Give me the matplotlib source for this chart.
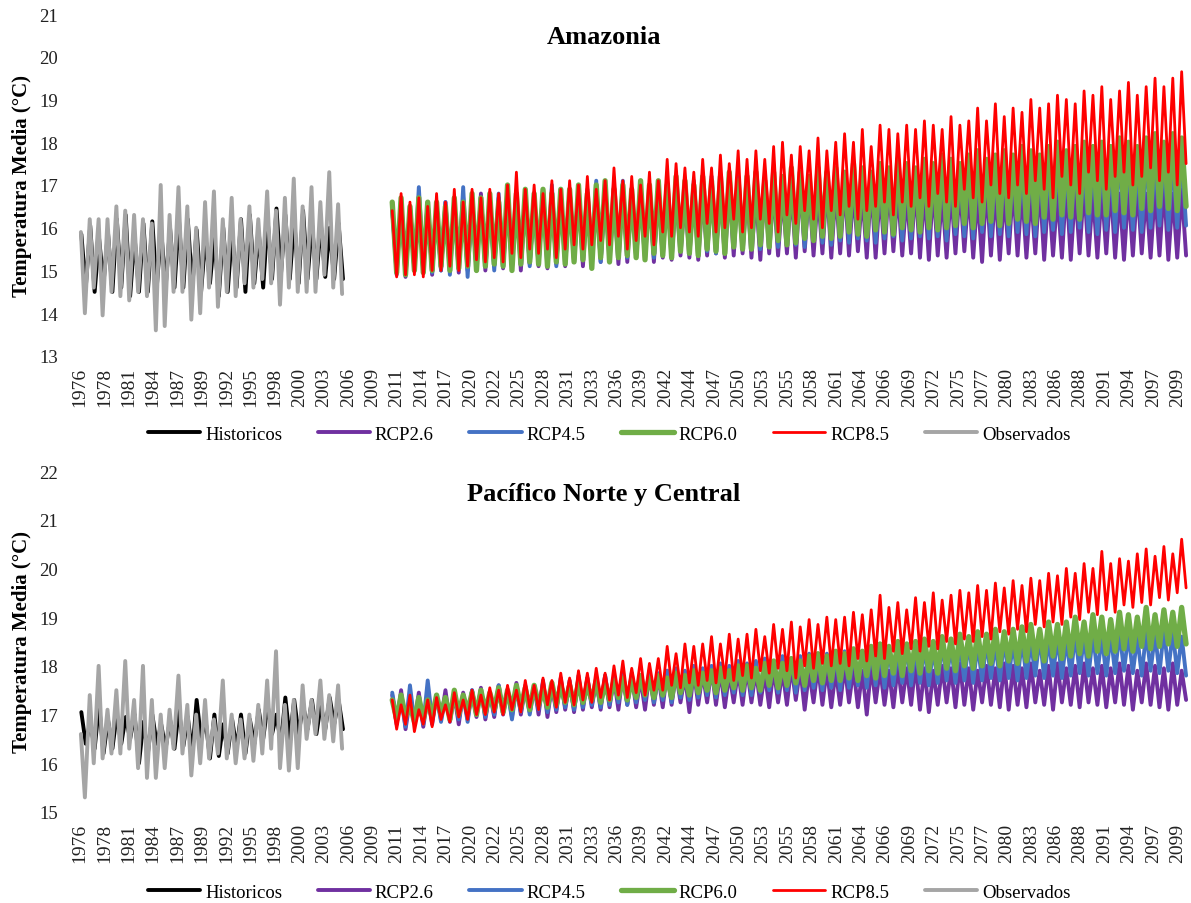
import matplotlib
matplotlib.use("Agg")
import matplotlib.pyplot as plt

# Series names, colours and widths (legend order)
series_names = ["Historicos", "RCP2.6", "RCP4.5", "RCP6.0", "RCP8.5", "Observados"]
series_colors = ["#000000", "#7030A0", "#4472C4", "#70AD47", "#FF0000", "#A5A5A5"]
series_widths = [2.8, 2.8, 2.8, 3.8, 2.0, 2.8]

# x axis labels (Excel shows one label every 33 months)
tick_labels = ["1976", "1978", "1981", "1984", "1987", "1989", "1992", "1995", "1998",
               "2000", "2003", "2006", "2009", "2011", "2014", "2017", "2020", "2022",
               "2025", "2028", "2031", "2033", "2036", "2039", "2042", "2044", "2047",
               "2050", "2053", "2055", "2058", "2061", "2064", "2066", "2069", "2072",
               "2075", "2077", "2080", "2083", "2086", "2088", "2091", "2094", "2097",
               "2099"]

hist_start = 1976
rcp_start = 2011

# ---------------- Amazonia: yearly highs / lows ----------------
amz_hist_hi = [15.85, 16.05, 15.75, 15.9, 16.2, 16.3, 15.8, 16.1, 16.15, 15.95,
               16.0, 16.2, 16.2, 15.95, 15.8, 15.8, 16.0, 15.9, 16.2, 16.3,
               15.9, 16.2, 16.45, 16.3, 16.2, 16.4, 16.1, 16.1, 16.0, 16.1]
amz_hist_lo = [14.6, 14.5, 14.7, 14.5, 14.6, 14.4, 14.5, 14.5, 14.6, 14.6,
               14.6, 14.6, 14.6, 14.5, 14.7, 14.4, 14.5, 14.6, 14.5, 14.7,
               14.6, 14.8, 14.9, 14.8, 14.7, 14.8, 14.8, 14.85, 14.8, 14.8]
amz_obs_hi = [15.9, 16.2, 16.2, 16.2, 16.5, 16.4, 16.3, 16.2, 16.1, 17.0,
              16.3, 16.95, 16.5, 16.0, 16.6, 16.85, 16.2, 16.7, 16.2, 16.5,
              16.2, 16.85, 16.4, 16.7, 17.15, 16.5, 16.95, 16.6, 17.3, 16.55]
amz_obs_lo = [14.0, 14.6, 13.95, 14.5, 14.4, 14.3, 14.5, 14.4, 13.6, 13.7,
              14.5, 14.5, 13.85, 14.0, 14.6, 14.15, 14.5, 14.4, 14.7, 14.6,
              14.8, 14.7, 14.2, 14.6, 14.5, 14.5, 14.5, 14.9, 14.6, 14.45]

amz_rcp26_hi = [16.45, 16.7, 16.5, 16.7, 16.6, 16.5, 16.6, 16.5, 16.7, 16.6,
                16.8, 16.6, 16.7, 16.6, 16.8, 16.7, 16.6, 16.8, 16.7, 16.8,
                16.7, 16.8, 16.7, 16.9, 16.8, 16.7, 16.9, 16.8, 16.7, 16.9,
                16.8, 16.9, 16.8, 16.7, 16.9, 16.8, 16.9, 16.8, 16.9, 17.0,
                16.9, 16.8, 17.0, 16.9, 16.8, 16.9, 17.0, 16.9, 16.8, 17.0,
                16.9, 17.0, 16.9, 16.8, 17.0, 16.9, 17.0, 16.9, 16.8, 17.0,
                16.9, 17.0, 16.8, 16.9, 17.0, 16.9, 16.8, 17.0, 16.9, 16.8,
                17.0, 16.9, 16.8, 17.0, 16.9, 16.8, 17.0, 16.9, 17.0, 16.8,
                16.9, 17.0, 16.8, 16.9, 17.0, 16.8, 16.9, 17.0, 16.8, 16.9]
amz_rcp26_lo = [14.9, 14.85, 15.0, 14.95, 14.9, 15.0, 15.05, 14.95, 15.0, 15.05,
                15.0, 15.1, 15.05, 15.1, 15.0, 15.15, 15.1, 15.05, 15.15, 15.1,
                15.2, 15.1, 15.15, 15.2, 15.25, 15.15, 15.2, 15.3, 15.25, 15.2,
                15.3, 15.25, 15.35, 15.3, 15.25, 15.35, 15.4, 15.3, 15.35, 15.4,
                15.3, 15.25, 15.4, 15.35, 15.4, 15.3, 15.45, 15.35, 15.4, 15.3,
                15.4, 15.35, 15.45, 15.3, 15.3, 15.4, 15.45, 15.35, 15.4, 15.3,
                15.25, 15.35, 15.3, 15.4, 15.45, 15.3, 15.2, 15.35, 15.25, 15.4,
                15.35, 15.3, 15.4, 15.25, 15.35, 15.3, 15.25, 15.4, 15.35, 15.3,
                15.4, 15.3, 15.25, 15.35, 15.4, 15.3, 15.35, 15.25, 15.3, 15.35]
amz_rcp45_hi = [16.4, 16.6, 16.5, 16.95, 16.6, 16.5, 16.6, 16.5, 16.95, 16.6,
                16.7, 16.6, 16.8, 16.7, 16.6, 16.8, 16.7, 16.9, 17.0, 16.8,
                16.9, 16.8, 16.9, 17.1, 16.9, 17.0, 17.1, 16.9, 17.0, 16.9,
                17.0, 16.9, 17.1, 17.0, 17.1, 17.0, 17.2, 17.0, 17.1, 17.2,
                17.1, 17.2, 17.0, 17.2, 17.1, 17.3, 17.2, 17.1, 17.3, 17.2,
                17.2, 17.3, 17.2, 17.4, 17.3, 17.2, 17.4, 17.3, 17.3, 17.4,
                17.3, 17.4, 17.5, 17.3, 17.4, 17.5, 17.4, 17.5, 17.4, 17.5,
                17.5, 17.4, 17.6, 17.5, 17.4, 17.6, 17.5, 17.6, 17.5, 17.6,
                17.6, 17.5, 17.7, 17.6, 17.5, 17.7, 17.6, 17.7, 17.6, 17.7]
amz_rcp45_lo = [15.1, 14.9, 15.0, 15.1, 14.95, 15.0, 14.9, 15.05, 14.85, 15.0,
                15.1, 15.0, 15.15, 15.1, 15.2, 15.1, 15.15, 15.2, 15.1, 15.25,
                15.2, 15.3, 15.25, 15.2, 15.3, 15.35, 15.3, 15.4, 15.35, 15.3,
                15.4, 15.35, 15.45, 15.4, 15.5, 15.45, 15.4, 15.5, 15.55, 15.5,
                15.55, 15.5, 15.6, 15.55, 15.65, 15.6, 15.55, 15.7, 15.65, 15.6,
                15.7, 15.65, 15.75, 15.7, 15.65, 15.75, 15.8, 15.7, 15.75, 15.8,
                15.75, 15.8, 15.7, 15.85, 15.8, 15.75, 15.9, 15.8, 15.85, 15.8,
                15.9, 15.85, 15.8, 15.9, 15.95, 15.85, 15.9, 16.0, 15.9, 15.85,
                15.95, 15.9, 16.0, 15.95, 15.9, 16.0, 16.05, 15.95, 16.0, 16.05]
amz_rcp60_hi = [16.6, 16.7, 16.5, 16.7, 16.6, 16.6, 16.5, 16.7, 16.6, 16.8,
                16.7, 16.8, 16.6, 17.0, 16.8, 16.9, 16.8, 16.9, 16.8, 16.9,
                16.9, 17.0, 16.8, 17.0, 17.1, 16.9, 17.0, 16.9, 17.1, 17.0,
                17.1, 17.0, 17.2, 17.1, 17.0, 17.2, 17.1, 17.2, 17.3, 17.1,
                17.2, 17.3, 17.1, 17.3, 17.2, 17.4, 17.3, 17.2, 17.4, 17.3,
                17.4, 17.3, 17.5, 17.4, 17.3, 17.5, 17.4, 17.6, 17.5, 17.4,
                17.6, 17.5, 17.7, 17.6, 17.5, 17.7, 17.8, 17.6, 17.7, 17.8,
                17.7, 17.9, 17.8, 17.7, 17.9, 18.0, 17.8, 17.9, 18.0, 17.9,
                18.0, 17.9, 18.1, 18.0, 17.9, 18.1, 18.2, 18.0, 18.2, 18.1]
amz_rcp60_lo = [14.95, 14.9, 15.0, 14.95, 15.0, 15.1, 15.0, 15.05, 15.1, 15.0,
                15.1, 15.15, 15.1, 15.0, 15.15, 15.2, 15.15, 15.1, 15.2, 15.15,
                15.2, 15.25, 15.05, 15.3, 15.2, 15.3, 15.35, 15.3, 15.25, 15.4,
                15.35, 15.3, 15.45, 15.4, 15.35, 15.5, 15.45, 15.4, 15.55, 15.5,
                15.5, 15.6, 15.55, 15.7, 15.6, 15.65, 15.75, 15.7, 15.8, 15.75,
                15.8, 15.9, 15.85, 15.8, 15.95, 15.9, 15.85, 16.0, 15.95, 15.9,
                16.0, 15.95, 16.0, 16.05, 16.1, 16.0, 16.1, 16.15, 16.05, 16.1,
                16.2, 16.15, 16.1, 16.25, 16.2, 16.3, 16.25, 16.2, 16.35, 16.3,
                16.3, 16.4, 16.35, 16.3, 16.45, 16.4, 16.5, 16.45, 16.4, 16.5]
amz_rcp85_hi = [16.4, 16.8, 16.6, 16.7, 16.5, 16.8, 16.6, 16.9, 16.6, 16.9,
                16.7, 16.9, 16.8, 17.0, 17.3, 16.9, 17.0, 16.8, 17.1, 16.9,
                17.1, 17.0, 17.2, 16.9, 17.1, 17.4, 17.1, 17.2, 17.0, 17.3,
                17.1, 17.6, 17.5, 17.4, 17.3, 17.6, 17.4, 17.7, 17.5, 17.8,
                17.6, 17.8, 17.6, 17.9, 18.0, 17.7, 17.9, 17.8, 18.1, 17.8,
                18.0, 18.2, 18.0, 18.3, 17.9, 18.4, 18.3, 18.2, 18.4, 18.3,
                18.5, 18.4, 18.3, 18.6, 18.4, 18.5, 18.8, 18.5, 18.9, 18.6,
                18.8, 18.7, 19.0, 18.8, 18.9, 19.1, 19.0, 18.9, 19.2, 19.1,
                19.3, 19.0, 19.2, 19.4, 19.1, 19.3, 19.5, 19.3, 19.5, 19.65]
amz_rcp85_lo = [14.85, 14.9, 14.9, 14.85, 15.0, 15.0, 15.1, 15.0, 15.1, 15.25,
                15.2, 15.3, 15.2, 15.4, 15.3, 15.5, 15.4, 15.5, 15.3, 15.5,
                15.6, 15.5, 15.6, 15.7, 15.6, 15.8, 15.5, 15.7, 15.8, 15.6,
                15.9, 15.8, 16.0, 15.9, 15.8, 16.1, 15.9, 16.0, 16.2, 15.9,
                16.0, 16.2, 16.1, 15.9, 16.3, 16.1, 16.4, 16.2, 16.0, 16.4,
                16.3, 16.5, 16.2, 16.4, 16.5, 16.6, 16.3, 16.6, 16.5, 16.7,
                16.5, 16.8, 16.6, 16.5, 16.9, 16.7, 16.6, 17.0, 16.8, 16.7,
                17.0, 16.8, 17.1, 16.9, 16.7, 17.2, 17.0, 16.8, 17.3, 17.1,
                16.9, 17.2, 17.3, 17.0, 17.2, 17.4, 17.1, 17.3, 17.0, 17.5]

# ---------------- Pacifico Norte y Central ----------------
pac_hist_hi = [17.05, 16.85, 17.2, 16.9, 17.0, 16.95, 17.0, 16.85, 17.0, 16.8,
               16.9, 17.1, 16.95, 17.3, 16.9, 17.0, 16.8, 16.9, 17.0, 16.9,
               17.1, 17.2, 17.0, 17.35, 17.3, 17.2, 17.3, 17.2, 17.35, 17.3]
pac_hist_lo = [16.4, 16.3, 16.2, 16.3, 16.4, 16.5, 16.0, 16.2, 16.4, 16.3,
               16.3, 16.35, 16.2, 16.5, 16.1, 16.15, 16.2, 16.3, 16.2, 16.4,
               16.5, 16.6, 16.4, 16.5, 16.6, 16.7, 16.6, 16.7, 16.8, 16.7]
pac_obs_hi = [16.6, 17.4, 18.0, 17.1, 17.5, 18.1, 17.3, 18.0, 17.3, 17.0,
              17.1, 17.8, 17.2, 17.0, 17.3, 16.9, 17.7, 17.0, 16.9, 17.0,
              17.2, 17.7, 18.3, 17.2, 17.3, 17.6, 17.3, 17.7, 17.4, 17.6]
pac_obs_lo = [15.3, 16.0, 16.1, 16.2, 16.2, 16.3, 15.9, 15.7, 15.7, 15.9,
              16.3, 16.2, 15.75, 16.0, 16.1, 16.2, 16.1, 16.0, 16.1, 16.05,
              16.2, 16.3, 15.9, 15.85, 15.9, 16.5, 16.6, 16.5, 16.45, 16.3]

pac_rcp26_hi = [17.4, 17.5, 17.3, 17.45, 17.35, 17.4, 17.5, 17.4, 17.45, 17.5,
                17.55, 17.45, 17.6, 17.5, 17.65, 17.55, 17.6, 17.7, 17.6, 17.75,
                17.7, 17.8, 17.75, 17.7, 17.8, 17.75, 17.85, 17.8, 17.75, 17.85,
                17.8, 17.9, 17.85, 17.8, 17.9, 17.85, 17.95, 17.9, 17.85, 17.9,
                17.95, 17.9, 17.85, 17.95, 17.9, 18.0, 17.95, 17.9, 18.0, 17.95,
                17.9, 18.0, 17.95, 17.9, 18.0, 17.95, 17.9, 18.0, 17.95, 18.05,
                17.95, 17.9, 18.0, 17.95, 18.05, 17.95, 17.9, 18.0, 17.95, 18.05,
                18.0, 17.95, 18.05, 17.9, 18.0, 18.05, 17.95, 18.0, 18.05, 17.95,
                18.0, 17.95, 18.05, 18.0, 17.9, 18.05, 18.0, 17.95, 18.05, 17.9]
pac_rcp26_lo = [16.8, 16.7, 16.85, 16.75, 16.8, 16.9, 16.85, 16.8, 16.9, 16.95,
                16.9, 16.95, 17.0, 16.95, 17.0, 17.05, 17.0, 16.95, 17.05, 17.1,
                17.05, 17.1, 17.15, 17.1, 17.15, 17.1, 17.2, 17.15, 17.1, 17.2,
                17.15, 17.2, 17.25, 17.05, 17.2, 17.25, 17.2, 17.15, 17.25, 17.2,
                17.25, 17.2, 17.15, 17.25, 17.2, 17.3, 17.1, 17.25, 17.2, 17.15,
                17.2, 17.25, 17.15, 17.0, 17.25, 17.2, 17.15, 17.25, 17.2, 17.1,
                17.05, 17.2, 17.25, 17.15, 17.2, 17.1, 17.25, 17.2, 17.15, 17.1,
                17.2, 17.15, 17.25, 17.2, 17.1, 17.25, 17.2, 17.15, 17.25, 17.2,
                17.15, 17.25, 17.2, 17.1, 17.25, 17.2, 17.15, 17.1, 17.2, 17.3]
pac_rcp45_hi = [17.45, 17.3, 17.6, 17.3, 17.7, 17.4, 17.35, 17.45, 17.4, 17.5,
                17.5, 17.45, 17.6, 17.5, 17.55, 17.6, 17.55, 17.65, 17.6, 17.7,
                17.65, 17.7, 17.75, 17.7, 17.8, 17.75, 17.8, 17.85, 17.8, 17.9,
                17.85, 17.9, 17.95, 17.9, 18.0, 17.95, 18.0, 18.05, 18.0, 18.1,
                18.05, 18.1, 18.15, 18.1, 18.2, 18.15, 18.2, 18.25, 18.2, 18.25,
                18.2, 18.3, 18.25, 18.3, 18.35, 18.3, 18.35, 18.3, 18.4, 18.35,
                18.4, 18.35, 18.45, 18.4, 18.45, 18.5, 18.45, 18.5, 18.45, 18.55,
                18.5, 18.55, 18.5, 18.6, 18.55, 18.6, 18.55, 18.65, 18.6, 18.65,
                18.6, 18.65, 18.7, 18.65, 18.6, 18.7, 18.65, 18.75, 18.7, 18.6]
pac_rcp45_lo = [16.9, 16.75, 16.85, 16.8, 16.9, 16.85, 16.95, 16.9, 16.85, 17.0,
                16.95, 17.0, 17.05, 16.9, 17.05, 17.0, 17.1, 17.05, 17.1, 17.15,
                17.1, 17.15, 17.2, 17.15, 17.2, 17.25, 17.2, 17.25, 17.3, 17.25,
                17.3, 17.25, 17.35, 17.3, 17.35, 17.4, 17.35, 17.4, 17.45, 17.4,
                17.4, 17.45, 17.5, 17.45, 17.5, 17.45, 17.5, 17.55, 17.5, 17.55,
                17.5, 17.55, 17.6, 17.55, 17.6, 17.55, 17.6, 17.65, 17.6, 17.65,
                17.6, 17.65, 17.7, 17.65, 17.7, 17.65, 17.7, 17.75, 17.7, 17.75,
                17.7, 17.75, 17.8, 17.75, 17.8, 17.75, 17.8, 17.85, 17.8, 17.85,
                17.8, 17.85, 17.9, 17.85, 17.8, 17.9, 17.85, 17.9, 17.85, 17.8]
pac_rcp60_hi = [17.3, 17.4, 17.2, 17.35, 17.3, 17.4, 17.35, 17.5, 17.4, 17.45,
                17.5, 17.45, 17.55, 17.5, 17.6, 17.55, 17.6, 17.5, 17.65, 17.6,
                17.6, 17.65, 17.6, 17.7, 17.65, 17.7, 17.75, 17.7, 17.8, 17.75,
                17.8, 17.75, 17.85, 17.8, 17.9, 17.85, 17.9, 17.95, 17.9, 18.0,
                18.0, 17.95, 18.05, 18.1, 18.05, 18.15, 18.1, 18.2, 18.25, 18.2,
                18.3, 18.25, 18.35, 18.3, 18.4, 18.45, 18.4, 18.5, 18.45, 18.5,
                18.55, 18.5, 18.6, 18.55, 18.65, 18.6, 18.7, 18.65, 18.75, 18.7,
                18.75, 18.8, 18.85, 18.75, 18.9, 18.85, 18.9, 19.0, 18.9, 19.05,
                19.0, 18.95, 19.1, 19.05, 19.0, 19.2, 19.05, 19.15, 19.1, 19.2]
pac_rcp60_lo = [16.9, 16.95, 16.85, 16.9, 16.95, 17.0, 16.9, 17.0, 17.05, 17.0,
                17.05, 17.1, 17.05, 17.1, 17.15, 17.1, 17.2, 17.15, 17.2, 17.25,
                17.2, 17.25, 17.3, 17.25, 17.3, 17.35, 17.3, 17.35, 17.4, 17.35,
                17.4, 17.35, 17.45, 17.4, 17.45, 17.5, 17.45, 17.5, 17.55, 17.5,
                17.55, 17.5, 17.6, 17.55, 17.6, 17.65, 17.6, 17.7, 17.65, 17.7,
                17.7, 17.75, 17.7, 17.8, 17.75, 17.8, 17.85, 17.8, 17.9, 17.85,
                17.9, 17.85, 17.95, 17.9, 18.0, 17.95, 18.0, 18.05, 18.0, 18.1,
                18.05, 18.1, 18.15, 18.1, 18.2, 18.15, 18.2, 18.25, 18.2, 18.3,
                18.25, 18.3, 18.35, 18.3, 18.4, 18.35, 18.4, 18.45, 18.4, 18.45]
pac_rcp85_hi = [17.3, 17.2, 17.4, 17.1, 17.3, 17.35, 17.2, 17.45, 17.3, 17.5,
                17.4, 17.55, 17.5, 17.6, 17.5, 17.7, 17.6, 17.75, 17.7, 17.85,
                17.75, 17.9, 17.85, 17.95, 17.85, 18.0, 18.1, 17.95, 18.15, 18.05,
                18.15, 18.4, 18.25, 18.45, 18.4, 18.45, 18.6, 18.45, 18.65, 18.55,
                18.65, 18.75, 18.6, 18.85, 18.75, 18.9, 18.8, 18.95, 18.85, 19.0,
                18.95, 19.0, 19.1, 19.05, 19.15, 19.45, 19.2, 19.3, 19.15, 19.4,
                19.3, 19.5, 19.35, 19.45, 19.55, 19.5, 19.65, 19.55, 19.7, 19.6,
                19.75, 19.65, 19.8, 19.75, 19.9, 19.85, 20.0, 19.9, 20.1, 20.0,
                20.35, 20.1, 20.2, 20.15, 20.3, 20.4, 20.25, 20.45, 20.3, 20.6]
pac_rcp85_lo = [16.7, 16.8, 16.65, 16.8, 16.75, 16.9, 16.85, 16.95, 16.9, 17.0,
                17.0, 17.05, 17.0, 17.1, 17.05, 17.15, 17.1, 17.2, 17.15, 17.25,
                17.2, 17.3, 17.25, 17.35, 17.3, 17.4, 17.35, 17.45, 17.4, 17.5,
                17.5, 17.6, 17.55, 17.65, 17.6, 17.7, 17.65, 17.75, 17.7, 17.8,
                17.75, 17.9, 17.85, 17.95, 17.9, 17.75, 18.0, 17.95, 18.05, 18.0,
                18.05, 18.0, 18.15, 18.1, 18.2, 18.15, 18.3, 18.25, 18.35, 18.3,
                18.4, 18.35, 18.5, 18.45, 18.55, 18.5, 18.6, 18.55, 18.7, 18.65,
                18.75, 18.7, 18.85, 18.8, 18.9, 18.85, 19.0, 18.95, 19.1, 19.05,
                19.15, 19.1, 19.25, 19.2, 19.3, 19.25, 19.4, 19.35, 19.5, 19.6]


def zigzag(first_year, highs, lows, hi_off, lo_off):
    """One high and one low per year, in time order."""
    xs, ys = [], []
    for i, (hi, lo) in enumerate(zip(highs, lows)):
        pts = sorted([(first_year + i + hi_off, hi), (first_year + i + lo_off, lo)])
        for x, y in pts:
            xs.append(x)
            ys.append(y)
    return xs, ys


plt.rcParams["font.family"] = ["Liberation Serif", "DejaVu Serif"]

fig = plt.figure(figsize=(11.91, 9.04), dpi=100)
W, H = 1191.0, 904.0

panels = [
    dict(title="Amazonia", top=15, bottom=357, ylim=(13, 21), title_y=37, legend_y=435,
         hist=(amz_hist_hi, amz_hist_lo), obs=(amz_obs_hi, amz_obs_lo),
         rcps=[(amz_rcp26_hi, amz_rcp26_lo), (amz_rcp45_hi, amz_rcp45_lo),
               (amz_rcp60_hi, amz_rcp60_lo), (amz_rcp85_hi, amz_rcp85_lo)]),
    dict(title="Pacífico Norte y Central", top=472, bottom=813, ylim=(15, 22), title_y=495,
         legend_y=893,
         hist=(pac_hist_hi, pac_hist_lo), obs=(pac_obs_hi, pac_obs_lo),
         rcps=[(pac_rcp26_hi, pac_rcp26_lo), (pac_rcp45_hi, pac_rcp45_lo),
               (pac_rcp60_hi, pac_rcp60_lo), (pac_rcp85_hi, pac_rcp85_lo)]),
]

left_px, right_px = 66, 1195
px_per_year = 8.87
tick_pos = [1976 + 2.75 * k for k in range(len(tick_labels))]

for p in panels:
    ax = fig.add_axes([left_px / W, 1 - p["bottom"] / H,
                       (right_px - left_px) / W, (p["bottom"] - p["top"]) / H])
    handles = []
    # historicos
    x, y = zigzag(hist_start, p["hist"][0], p["hist"][1], 0.15, 0.65)
    h, = ax.plot(x, y, color=series_colors[0], lw=series_widths[0],
                 solid_joinstyle="round", solid_capstyle="round")
    handles.append(h)
    for i, (hi, lo) in enumerate(p["rcps"]):
        x, y = zigzag(rcp_start, hi, lo, 0.2, 0.7)
        h, = ax.plot(x, y, color=series_colors[i + 1], lw=series_widths[i + 1],
                     solid_joinstyle="round", solid_capstyle="round")
        handles.append(h)
    x, y = zigzag(hist_start, p["obs"][0], p["obs"][1], 0.1, 0.55)
    h, = ax.plot(x, y, color=series_colors[5], lw=series_widths[5],
                 solid_joinstyle="round", solid_capstyle="round")
    handles.append(h)

    ax.set_xlim(1976 - (80 - left_px) / px_per_year, 1976 + (right_px - 80) / px_per_year)
    ax.set_ylim(*p["ylim"])
    ax.set_yticks(range(p["ylim"][0], p["ylim"][1] + 1))
    ax.set_xticks(tick_pos)
    ax.set_xticklabels(tick_labels, rotation=90, fontsize=14, color="#222222")
    ax.tick_params(axis="x", length=0, pad=8)
    ax.tick_params(axis="y", length=0, pad=6, labelsize=13.5, labelcolor="#222222")
    for s in ax.spines.values():
        s.set_visible(False)

    fig.text(604 / W, 1 - p["title_y"] / H, p["title"], ha="center", va="center",
             fontsize=19, fontweight="bold")
    fig.text(22 / W, 1 - (p["top"] + p["bottom"]) / 2 / H, "Temperatura Media (°C)",
             rotation=90, ha="center", va="center", fontsize=15, fontweight="bold")
    fig.legend(handles, series_names, loc="center", ncol=6,
               bbox_to_anchor=(609 / W, 1 - p["legend_y"] / H), frameon=False,
               fontsize=13.5, handlelength=2.8, handletextpad=0.25, columnspacing=1.9)

fig.savefig("out.png", dpi=100)
